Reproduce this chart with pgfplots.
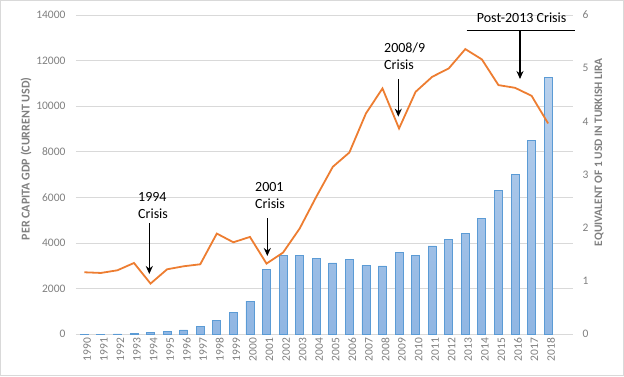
\documentclass[border=0pt]{standalone}
\usepackage{fontspec}
\setmainfont{Carlito}
\usepackage{pgfplots}
\pgfplotsset{compat=1.18}
\usetikzlibrary{arrows.meta}
\definecolor{gridc}{HTML}{D9D9D9}
\definecolor{tickc}{HTML}{7F7F7F}
\definecolor{labc}{HTML}{7F7F7F}
\definecolor{linec}{HTML}{ED7D31}
\definecolor{bartop}{HTML}{B8D0EC}
\definecolor{barbot}{HTML}{90B6E3}
\definecolor{baredge}{HTML}{5B9BD5}
\pgfplotstableread{
year gdp rate
1990 2720 0.0026
1991 2690 0.0042
1992 2807 0.0069
1993 3127 0.0110
1994 2224 0.0297
1995 2851 0.0459
1996 2983 0.0813
1997 3070 0.1517
1998 4417 0.2608
1999 4035 0.4188
2000 4270 0.6252
2001 3100 1.2256
2002 3585 1.4900
2003 4637 1.4900
2004 6025 1.4255
2005 7343 1.3400
2006 7971 1.4100
2007 9683 1.2950
2008 10780 1.2850
2009 9025 1.5400
2010 10633 1.4900
2011 11290 1.6600
2012 11658 1.7900
2013 12505 1.9000
2014 12053 2.1800
2015 10926 2.7100
2016 10808 3.0100
2017 10457 3.6400
2018 9245 4.8200
}\data
\pgfplotsset{
  common/.style={
    scale only axis, width=497pt, height=319.3pt,
    at={(76pt,41.7pt)}, anchor=south west,
    xmin=1989.5, xmax=2019.5,
    xtick={1990,...,2018},
    axis line style={draw=none},
    major tick length=0pt,
    scaled y ticks=false,
    tick label style={font=\fontsize{11.5}{12}\selectfont, text=tickc},
    /pgf/number format/assume math mode=true,
    /pgf/number format/1000 sep={},
  }
}
\begin{document}
\begin{tikzpicture}
\draw[gridc, line width=0.8pt] (0.4pt,0.4pt) rectangle (623.6pt,375.6pt);
% left axis with grid
\begin{axis}[common,
  ymin=0, ymax=14000, ytick={0,2000,...,14000},
  ymajorgrids, grid style={gridc, line width=0.8pt},
  yticklabel style={xshift=-7pt},
  xticklabel style={rotate=90, anchor=east, yshift=-3pt},
  xticklabels={1990,1991,1992,1993,1994,1995,1996,1997,1998,1999,2000,2001,2002,2003,2004,2005,2006,2007,2008,2009,2010,2011,2012,2013,2014,2015,2016,2017,2018},
  ylabel={PER CAPITA GDP (CURRENT USD)},
  ylabel style={font=\bfseries\fontsize{12}{12}\selectfont, text=labc, at={(axis description cs:0,0.55)}, anchor=center, yshift=50pt},
]
\addplot[draw=none] table[x=year, y=gdp] {\data};
\end{axis}
% right axis, bars
\begin{axis}[common,
  axis y line*=right,
  ymin=0, ymax=6, ytick={0,1,...,6},
  xticklabels={},
  yticklabel style={xshift=6pt},
  ylabel={EQUIVALENT OF 1 USD IN TURKISH LIRA},
  ylabel style={font=\bfseries\fontsize{11.4}{12}\selectfont, text=labc, at={(axis description cs:1,0.57)}, anchor=center, yshift=-26pt},
]
\addplot[ybar, bar width=8pt, draw=baredge, line width=0.8pt, top color=bartop, bottom color=barbot] table[x=year, y=rate] {\data};
\end{axis}
% line on left scale
\begin{axis}[common,
  ymin=0, ymax=14000, ytick=\empty, xticklabels={},
]
\addplot[linec, line width=1.8pt, mark=none] table[x=year, y=gdp] {\data};
\end{axis}
% annotations
\begin{scope}[every node/.style={font=\fontsize{14}{16}\selectfont, text=black, inner sep=0pt}]
\node[anchor=west] at (138pt,178.7pt) {1994};
\node[anchor=west] at (138pt,162pt) {Crisis};
\draw[-{Stealth[length=8pt,width=7pt]}, line width=1.4pt] (149.3pt,153pt) -- (149.3pt,102pt);
\node[anchor=west] at (255pt,189.3pt) {2001};
\node[anchor=west] at (255pt,172pt) {Crisis};
\draw[-{Stealth[length=8pt,width=7pt]}, line width=1.4pt] (267.3pt,158pt) -- (267.3pt,120pt);
\node[anchor=west] at (384pt,328.3pt) {2008/9};
\node[anchor=west] at (384pt,311pt) {Crisis};
\draw[-{Stealth[length=8pt,width=7pt]}, line width=1.4pt] (398.3pt,297pt) -- (398.3pt,259.3pt);
\node[anchor=west] at (476.7pt,358.7pt) {Post-2013 Crisis};
\draw[line width=0.9pt] (466.7pt,346pt) -- (575pt,346pt);
\draw[-{Stealth[length=8pt,width=7pt]}, line width=1.4pt] (520pt,346pt) -- (520pt,297pt);
\end{scope}
\end{tikzpicture}
\end{document}
